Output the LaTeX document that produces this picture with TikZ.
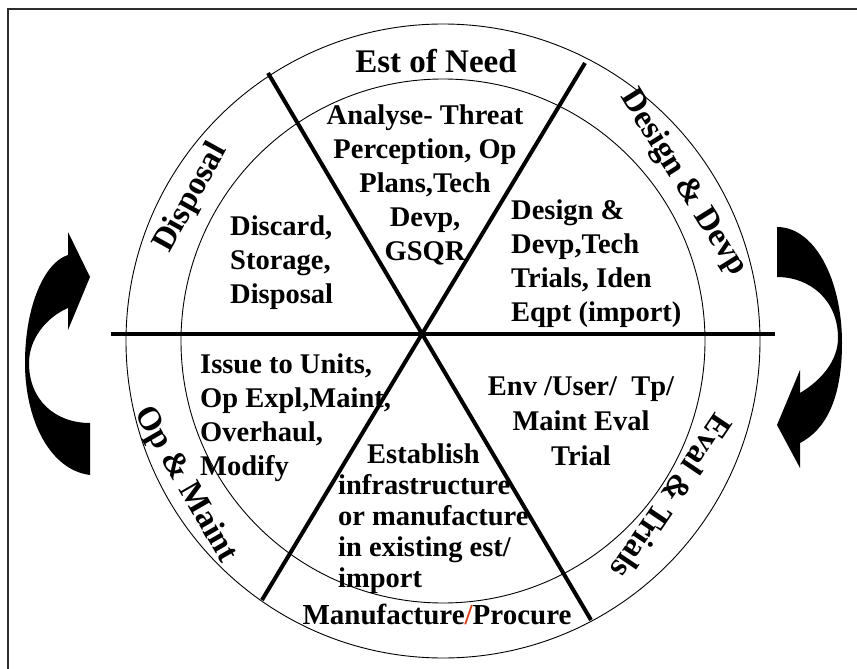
\documentclass[tikz,border=0pt]{standalone}
\usepackage{fontspec}
\setmainfont{Liberation Serif}
\definecolor{framegray}{RGB}{45,45,45}
\definecolor{slashred}{RGB}{214,62,24}
\tikzset{
  frame_ln/.style = {draw=framegray, line width=2.6},
  ring_ln/.style = {draw=black, line width=0.9},
  spoke/.style = {draw=black, line width=4},
  stage_lbl/.style = {inner sep=0pt, font=\bfseries\fontsize{33}{38}\selectfont},
  task_txt/.style = {inner sep=0pt, font=\bfseries\fontsize{28.5}{34}\selectfont},
  turn_arrow/.style = {fill=black}
}

\begin{document}
\begin{tikzpicture}[x=1pt,y=-1pt]
	\useasboundingbox (0,0) rectangle (857,669);
	\draw[frame_ln] (8,669) -- (8,9) -- (857,9);

	% rings and spokes
	\coordinate (mid) at (443,341);
	\draw[ring_ln] (mid) circle[radius=317];
	\draw[ring_ln] (mid) circle[radius=262];
	\coordinate (w) at (111,334);
	\coordinate (e) at (775,334);
	\coordinate (nw) at (268,73);
	\coordinate (se) at (591,620);
	\coordinate (ne) at (585,63);
	\coordinate (sw) at (262,600);
	\draw[spoke] (w) -- (e);
	\draw[spoke] (nw) -- (se);
	\draw[spoke] (ne) -- (sw);

	% stage names round the rim
	\node [stage_lbl, anchor=base] (need) at (436,73) {Est of Need};
	\node [stage_lbl, rotate=61] (disp) at (191,198) {Disposal};
	\node [stage_lbl, rotate=-58] (dsgn) at (683,183) {Design \& Devp};
	\node [stage_lbl, rotate=-124] (eval) at (672,497) {Eval \& Trials};
	\node [stage_lbl, rotate=-60] (opm) at (185,485) {Op \& Maint};
	\node [task_txt, anchor=base, font=\bfseries\fontsize{29}{34}\selectfont] (mfg) at (437,624)
		{Manufacture{\color{slashred}/}Procure};

	% what happens in each stage (base = last line)
	\node [task_txt, align=center, anchor=base] (analyse) at (425,260)
		{Analyse- Threat\\Perception, Op\\Plans,Tech\\Devp,\\GSQR};
	\node [task_txt, align=left, anchor=base west] (discard) at (230,303)
		{Discard,\\Storage,\\Disposal};
	\node [task_txt, align=left, anchor=base west] (devp) at (511,321)
		{Design \&\\Devp,Tech\\Trials, Iden\\Eqpt (import)};
	\node [task_txt, align=left, anchor=base west] (issue) at (200,475)
		{Issue to Units,\\Op Expl,Maint,\\Overhaul,\\Modify};
	\node [task_txt, align=left, anchor=base west, font=\bfseries\fontsize{28.5}{31}\selectfont] (estab) at (338,587)
		{\hspace*{29pt}Establish\\infrastructure\\or manufacture\\in existing est/\\import};
	\node [task_txt, align=center, anchor=base, font=\bfseries\fontsize{28.5}{35}\selectfont] (env) at (581,465)
		{Env /User/~~Tp/\\Maint Eval\\Trial};

	% turning arrows either side
	\fill[turn_arrow] (90,475) .. controls (50,470) and (25,420) .. (25,363)
		.. controls (25,305) and (45,262) .. (68,255) -- (68,232) -- (90,277) -- (68,330) -- (68,308)
		.. controls (45,318) and (29,340) .. (29,363) .. controls (29,400) and (55,423) .. (90,423) -- cycle;
	\fill[turn_arrow] (777,227) .. controls (815,227) and (842,280) .. (842,343)
		.. controls (842,400) and (825,430) .. (800,443) -- (800,468) -- (777,425) -- (800,370) -- (800,393)
		.. controls (822,380) and (838,360) .. (838,338) .. controls (838,300) and (810,277) .. (777,277) -- cycle;
\end{tikzpicture}
\end{document}
